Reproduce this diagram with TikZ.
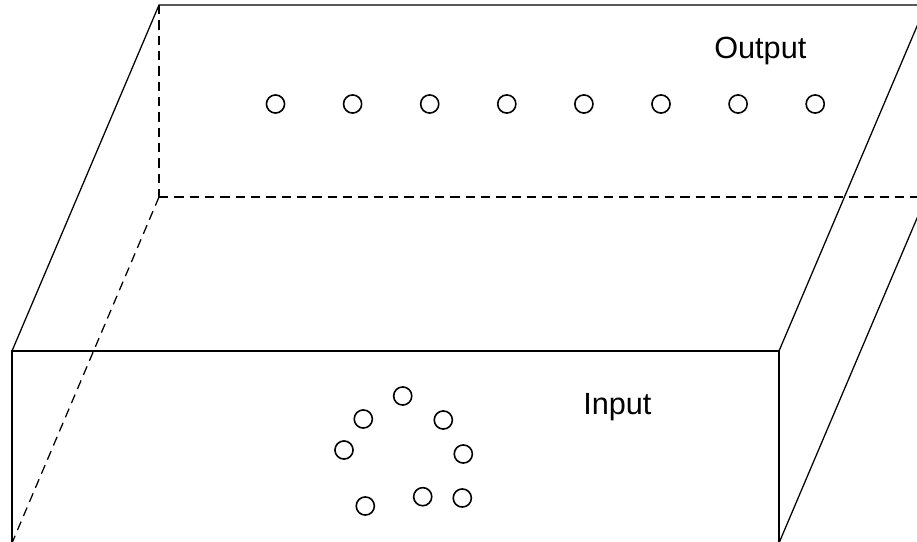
\documentclass[tikz,border=0pt]{standalone}
\usepackage{fontspec}
\setmainfont{Liberation Sans}
\begin{document}
\begin{tikzpicture}[x=0.75pt,y=-0.75pt,
  edge/.style={line width=0.95pt, line cap=round, line join=miter},
  hidden/.style={line width=0.95pt, dash pattern=on 7pt off 4.5pt},
  ring/.style={circle, draw, line width=1.2pt, inner sep=0pt, minimum size=13.6pt},
  lbl/.style={font=\fontsize{23}{27}\selectfont, inner sep=0pt, anchor=base west}]
\useasboundingbox (0,0) rectangle (917,542);
\clip (0,0) rectangle (917,542);
\fill[white] (0,0) rectangle (917,542);
% corners of the box
\coordinate (F1) at (12,351);
\coordinate (F2) at (779,351);
\coordinate (F3) at (779,543);
\coordinate (F4) at (12,543);
\coordinate (B1) at (159,5);
\coordinate (B2) at (926,5);
\coordinate (B3) at (926,197);
\coordinate (B4) at (159,197);
% hidden edges
\draw[hidden] (B1) -- (B4);
\draw[hidden] (B4) -- (B3);
\draw[hidden] (B4) -- (F4);
% visible edges
\draw[edge] (F4) -- (F1) -- (F2) -- (F3);
\draw[edge] (F1) -- (B1) -- (B2);
\draw[edge] (F2) -- (B2);
\draw[edge] (F3) -- (B3);
% output row
\foreach \i in {0,...,7} {
  \node[ring] (o\i) at ({275.5+77.1*\i},104) {};
}
% input cluster
\node[ring] (i1) at (402.7,396) {};
\node[ring] (i2) at (363.3,419) {};
\node[ring] (i3) at (443.3,420) {};
\node[ring] (i4) at (344,450) {};
\node[ring] (i5) at (463.3,454) {};
\node[ring] (i6) at (422.7,496.7) {};
\node[ring] (i7) at (462.3,498) {};
\node[ring] (i8) at (365.3,506) {};
% labels
\node[lbl] (out) at (714,59) {Output};
\node[lbl] (in) at (583,414) {Input};
\end{tikzpicture}
\end{document}
